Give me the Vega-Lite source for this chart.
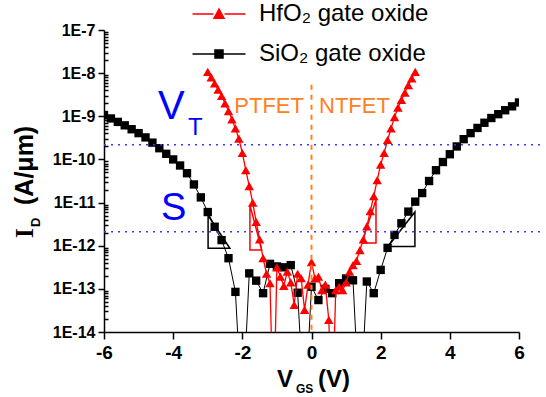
{
"$schema": "https://vega.github.io/schema/vega-lite/v6.json",
"width": 415, "height": 302,
"autosize": {"type": "none"},
"padding": {"left": 104, "top": 30, "right": 27, "bottom": 65},
"background": "white",
"config": {"view": {"stroke": null}, "font": "Liberation Sans",
 "axis": {"grid": false, "domainColor": "black", "domainWidth": 1.5, "tickColor": "black", "tickWidth": 1.5, "labelColor": "black", "labelFont": "Liberation Sans", "labelFontWeight": "bold", "labelFlush": false, "labelBound": false, "labelOverlap": false},
 "legend": {"title": null, "orient": "none", "legendX": 103, "legendY": -28, "padding": 0, "labelFont": "Liberation Sans", "labelFontSize": 24, "labelFontWeight": "normal", "labelColor": "black", "labelOffset": 28, "labelLimit": 400, "rowPadding": 16, "symbolSize": 100, "symbolStrokeWidth": 1.5}},
"data": {"values": [
{"oxide":"SiO2","V":-6.0,"I":1.07e-9},{"oxide":"SiO2","V":-5.8,"I":8.91e-10},{"oxide":"SiO2","V":-5.6,"I":7.41e-10},{"oxide":"SiO2","V":-5.4,"I":6.17e-10},{"oxide":"SiO2","V":-5.2,"I":5.01e-10},{"oxide":"SiO2","V":-5.0,"I":4.07e-10},{"oxide":"SiO2","V":-4.8,"I":3.24e-10},{"oxide":"SiO2","V":-4.6,"I":2.45e-10},{"oxide":"SiO2","V":-4.4,"I":1.82e-10},{"oxide":"SiO2","V":-4.2,"I":1.35e-10},{"oxide":"SiO2","V":-4.0,"I":1.0e-10},{"oxide":"SiO2","V":-3.8,"I":7.24e-11},{"oxide":"SiO2","V":-3.6,"I":4.79e-11},{"oxide":"SiO2","V":-3.4,"I":2.63e-11},{"oxide":"SiO2","V":-3.2,"I":1.32e-11},{"oxide":"SiO2","V":-3.0,"I":6.03e-12},{"oxide":"SiO2","V":-2.8,"I":2.75e-12},{"oxide":"SiO2","V":-2.6,"I":1.35e-12},{"oxide":"SiO2","V":-2.4,"I":5.13e-13},{"oxide":"SiO2","V":-2.2,"I":8.51e-14},{"oxide":"SiO2","V":-2.0,"I":1e-16},{"oxide":"SiO2","V":-1.8,"I":2.29e-13},{"oxide":"SiO2","V":-1.6,"I":1.55e-13},{"oxide":"SiO2","V":-1.4,"I":7.94e-14},{"oxide":"SiO2","V":-1.2,"I":3.8e-13},{"oxide":"SiO2","V":-1.0,"I":3.31e-13},{"oxide":"SiO2","V":-0.8,"I":3.16e-13},{"oxide":"SiO2","V":-0.6,"I":3.55e-13},{"oxide":"SiO2","V":-0.4,"I":8.13e-14},{"oxide":"SiO2","V":-0.2,"I":1e-16},{"oxide":"SiO2","V":0.0,"I":1.12e-13},{"oxide":"SiO2","V":0.2,"I":5.5e-14},{"oxide":"SiO2","V":0.4,"I":1.0e-13},{"oxide":"SiO2","V":0.6,"I":7.94e-14},{"oxide":"SiO2","V":0.8,"I":1.35e-13},{"oxide":"SiO2","V":1.0,"I":1.74e-13},{"oxide":"SiO2","V":1.2,"I":1.58e-13},{"oxide":"SiO2","V":1.4,"I":1e-16},{"oxide":"SiO2","V":1.6,"I":1.48e-13},{"oxide":"SiO2","V":1.8,"I":7.94e-14},{"oxide":"SiO2","V":2.0,"I":2.75e-13},{"oxide":"SiO2","V":2.2,"I":8.91e-13},{"oxide":"SiO2","V":2.4,"I":1.78e-12},{"oxide":"SiO2","V":2.6,"I":3.31e-12},{"oxide":"SiO2","V":2.8,"I":6.17e-12},{"oxide":"SiO2","V":3.0,"I":1.05e-11},{"oxide":"SiO2","V":3.2,"I":1.66e-11},{"oxide":"SiO2","V":3.4,"I":3.16e-11},{"oxide":"SiO2","V":3.6,"I":5.62e-11},{"oxide":"SiO2","V":3.8,"I":8.71e-11},{"oxide":"SiO2","V":4.0,"I":1.32e-10},{"oxide":"SiO2","V":4.2,"I":2.0e-10},{"oxide":"SiO2","V":4.4,"I":2.95e-10},{"oxide":"SiO2","V":4.6,"I":4.07e-10},{"oxide":"SiO2","V":4.8,"I":5.37e-10},{"oxide":"SiO2","V":5.0,"I":7.08e-10},{"oxide":"SiO2","V":5.2,"I":9.12e-10},{"oxide":"SiO2","V":5.4,"I":1.12e-9},{"oxide":"SiO2","V":5.6,"I":1.38e-9},{"oxide":"SiO2","V":5.8,"I":1.7e-9},{"oxide":"SiO2","V":6.0,"I":2.09e-9},
{"oxide":"HfO2","V":-3.0,"I":1.07e-8},{"oxide":"HfO2","V":-2.9,"I":7.94e-9},{"oxide":"HfO2","V":-2.8,"I":5.75e-9},{"oxide":"HfO2","V":-2.7,"I":4.17e-9},{"oxide":"HfO2","V":-2.6,"I":2.95e-9},{"oxide":"HfO2","V":-2.5,"I":2.0e-9},{"oxide":"HfO2","V":-2.4,"I":1.32e-9},{"oxide":"HfO2","V":-2.3,"I":8.51e-10},{"oxide":"HfO2","V":-2.2,"I":5.25e-10},{"oxide":"HfO2","V":-2.1,"I":3.02e-10},{"oxide":"HfO2","V":-2.0,"I":1.41e-10},{"oxide":"HfO2","V":-1.9,"I":5.62e-11},{"oxide":"HfO2","V":-1.8,"I":2.4e-11},{"oxide":"HfO2","V":-1.7,"I":1.0e-11},{"oxide":"HfO2","V":-1.6,"I":3.55e-12},{"oxide":"HfO2","V":-1.5,"I":1.41e-12},{"oxide":"HfO2","V":-1.4,"I":5.13e-13},{"oxide":"HfO2","V":-1.3,"I":2.24e-13},{"oxide":"HfO2","V":-1.2,"I":1.35e-13},{"oxide":"HfO2","V":-1.1,"I":1e-16},{"oxide":"HfO2","V":-1.0,"I":3.16e-13},{"oxide":"HfO2","V":-0.9,"I":1.91e-13},{"oxide":"HfO2","V":-0.8,"I":1.17e-13},{"oxide":"HfO2","V":-0.7,"I":2.51e-13},{"oxide":"HfO2","V":-0.6,"I":1.41e-13},{"oxide":"HfO2","V":-0.5,"I":4.27e-14},{"oxide":"HfO2","V":-0.4,"I":2.24e-13},{"oxide":"HfO2","V":-0.3,"I":1.78e-13},{"oxide":"HfO2","V":-0.2,"I":3.24e-14},{"oxide":"HfO2","V":-0.1,"I":1.26e-13},{"oxide":"HfO2","V":0.0,"I":4.17e-13},{"oxide":"HfO2","V":0.1,"I":1.74e-13},{"oxide":"HfO2","V":0.2,"I":1.91e-13},{"oxide":"HfO2","V":0.3,"I":9.33e-14},{"oxide":"HfO2","V":0.4,"I":1.26e-13},{"oxide":"HfO2","V":0.5,"I":1.91e-14},{"oxide":"HfO2","V":0.6,"I":1e-16},{"oxide":"HfO2","V":0.7,"I":9.33e-14},{"oxide":"HfO2","V":0.8,"I":1.12e-13},{"oxide":"HfO2","V":0.9,"I":9.33e-14},{"oxide":"HfO2","V":1.0,"I":1.41e-13},{"oxide":"HfO2","V":1.1,"I":2.51e-13},{"oxide":"HfO2","V":1.2,"I":3.55e-13},{"oxide":"HfO2","V":1.3,"I":4.47e-13},{"oxide":"HfO2","V":1.4,"I":7.94e-13},{"oxide":"HfO2","V":1.5,"I":1.41e-12},{"oxide":"HfO2","V":1.6,"I":2.82e-12},{"oxide":"HfO2","V":1.7,"I":6.31e-12},{"oxide":"HfO2","V":1.8,"I":1.41e-11},{"oxide":"HfO2","V":1.9,"I":3.31e-11},{"oxide":"HfO2","V":2.0,"I":7.59e-11},{"oxide":"HfO2","V":2.1,"I":1.41e-10},{"oxide":"HfO2","V":2.2,"I":2.82e-10},{"oxide":"HfO2","V":2.3,"I":5.25e-10},{"oxide":"HfO2","V":2.4,"I":9.55e-10},{"oxide":"HfO2","V":2.5,"I":1.58e-9},{"oxide":"HfO2","V":2.6,"I":2.4e-9},{"oxide":"HfO2","V":2.7,"I":3.55e-9},{"oxide":"HfO2","V":2.8,"I":5.25e-9},{"oxide":"HfO2","V":2.9,"I":7.59e-9},{"oxide":"HfO2","V":3.0,"I":1.07e-8}
]},
"layer": [
{"data": {"values": [
 {"t":"bl","k":0,"V":-2.99,"I":5.01e-12},{"t":"bl","k":1,"V":-2.99,"I":8.71e-13},{"t":"bl","k":2,"V":-2.36,"I":8.71e-13},{"t":"bl","k":3,"V":-2.99,"I":5.01e-12},
 {"t":"br","k":0,"V":2.21,"I":9.55e-13},{"t":"br","k":1,"V":2.99,"I":9.55e-13},{"t":"br","k":2,"V":2.99,"I":6.03e-12},{"t":"br","k":3,"V":2.21,"I":9.55e-13}
 ]},
 "mark": {"type": "line", "color": "black", "strokeWidth": 1.5, "clip": true},
 "encoding": {
  "x": {"field": "V", "type": "quantitative", "scale": {"domain": [-6, 6], "nice": false, "zero": false},
   "axis": {"title": null, "values": [-6,-5,-4,-3,-2,-1,0,1,2,3,4,5,6], "labelExpr": "datum.value % 2 == 0 ? '' + datum.value : ''", "labelFontSize": 19, "labelPadding": 4, "tickSize": {"condition": {"test": "datum.value % 2 == 0", "value": 7}, "value": 4}}},
  "y": {"field": "I", "type": "quantitative", "scale": {"type": "log", "domain": [1e-14, 1e-7], "nice": false},
   "axis": {"title": null, "values": [1e-14,2e-14,3e-14,4e-14,5e-14,6e-14,7e-14,8e-14,9e-14,1e-13,2e-13,3e-13,4e-13,5e-13,6e-13,7e-13,8e-13,9e-13,1e-12,2e-12,3e-12,4e-12,5e-12,6e-12,7e-12,8e-12,9e-12,1e-11,2e-11,3e-11,4e-11,5e-11,6e-11,7e-11,8e-11,9e-11,1e-10,2e-10,3e-10,4e-10,5e-10,6e-10,7e-10,8e-10,9e-10,1e-9,2e-9,3e-9,4e-9,5e-9,6e-9,7e-9,8e-9,9e-9,1e-8,2e-8,3e-8,4e-8,5e-8,6e-8,7e-8,8e-8,9e-8,1e-7],
    "labelExpr": "abs(log(datum.value)/LN10 - round(log(datum.value)/LN10)) < 0.001 ? '1E' + round(log(datum.value)/LN10) : ''",
    "labelFontSize": 16, "labelPadding": 3,
    "tickSize": {"condition": {"test": "abs(log(datum.value)/LN10 - round(log(datum.value)/LN10)) < 0.001", "value": 6}, "value": -4}}},
  "detail": {"field": "t"}, "order": {"field": "k"}}},
{"data": {"values": [
 {"t":"rl","k":0,"V":-1.78,"I":8.71e-12},{"t":"rl","k":1,"V":-1.78,"I":7.94e-13},{"t":"rl","k":2,"V":-1.44,"I":7.94e-13},{"t":"rl","k":3,"V":-1.78,"I":8.71e-12},
 {"t":"rr","k":0,"V":1.45,"I":1.15e-12},{"t":"rr","k":1,"V":1.865,"I":1.15e-12},{"t":"rr","k":2,"V":1.865,"I":1.15e-11},{"t":"rr","k":3,"V":1.45,"I":1.15e-12}
 ]},
 "mark": {"type": "line", "color": "#ff0000", "strokeWidth": 1.5, "clip": true},
 "encoding": {"x": {"field": "V", "type": "quantitative"}, "y": {"field": "I", "type": "quantitative"}, "detail": {"field": "t"}, "order": {"field": "k"}}},
{"transform": [{"filter": "datum.oxide == 'SiO2'"}],
 "mark": {"type": "line", "color": "black", "strokeWidth": 1, "clip": true},
 "encoding": {"x": {"field": "V", "type": "quantitative"}, "y": {"field": "I", "type": "quantitative"}}},
{"transform": [{"filter": "datum.oxide == 'SiO2'"}],
 "mark": {"type": "point", "shape": "square", "filled": true, "color": "#000000", "size": 70, "opacity": 1, "clip": true},
 "encoding": {"x": {"field": "V", "type": "quantitative"}, "y": {"field": "I", "type": "quantitative"}}},
{"transform": [{"filter": "datum.oxide == 'HfO2'"}],
 "mark": {"type": "line", "color": "#ff0000", "strokeWidth": 1.3, "clip": true},
 "encoding": {"x": {"field": "V", "type": "quantitative"}, "y": {"field": "I", "type": "quantitative"}}},
{"transform": [{"filter": "datum.oxide == 'HfO2'"}],
 "mark": {"type": "point", "shape": "triangle-up", "filled": true, "color": "#ff0000", "size": 90, "opacity": 1, "clip": true},
 "encoding": {"x": {"field": "V", "type": "quantitative"}, "y": {"field": "I", "type": "quantitative"}}},
{"transform": [{"filter": "false"}],
 "mark": {"type": "point", "filled": true, "opacity": 1, "strokeWidth": 1.5},
 "encoding": {"x": {"field": "V", "type": "quantitative"}, "y": {"field": "I", "type": "quantitative"},
  "fill": {"field": "oxide", "type": "nominal", "scale": {"domain": ["HfO2", "SiO2"], "range": ["#ff0000", "#000000"]},
   "legend": {"labelExpr": "datum.value == 'HfO2' ? 'HfO₂ gate oxide' : 'SiO₂ gate oxide'"}},
  "stroke": {"field": "oxide", "type": "nominal", "scale": {"domain": ["HfO2", "SiO2"], "range": ["#ff0000", "#000000"]},
   "legend": {"labelExpr": "datum.value == 'HfO2' ? 'HfO₂ gate oxide' : 'SiO₂ gate oxide'"}},
  "shape": {"field": "oxide", "type": "nominal", "scale": {"domain": ["HfO2", "SiO2"], "range": ["M-5.3,0H-1.1M1.1,0H5.3M-1,0.85L0,-1L1,0.85Z", "M-5.3,0H-0.8M0.8,0H5.3M-0.8,-0.8H0.8V0.8H-0.8Z"]},
   "legend": {"labelExpr": "datum.value == 'HfO2' ? 'HfO₂ gate oxide' : 'SiO₂ gate oxide'"}}}},
{"data": {"values": [{"lvl": 2.2e-10}, {"lvl": 2.1e-12}]},
 "mark": {"type": "rule", "color": "#3a3aff", "strokeWidth": 1.5, "strokeDash": [2, 5], "clip": false},
 "encoding": {"y": {"field": "lvl", "type": "quantitative"}, "x": {"datum": -6, "type": "quantitative"}, "x2": {"datum": 6.62}}},
{"data": {"values": [{}]},
 "mark": {"type": "rule", "color": "#ff8020", "strokeWidth": 2, "strokeDash": [5, 5]},
 "encoding": {"x": {"datum": 0, "type": "quantitative"}, "y": {"datum": 5.4e-9, "type": "quantitative"}, "y2": {"datum": 1e-14}}},
{"data": {"values": [{}]}, "mark": {"type": "text", "text": "V", "fontSize": 40, "color": "#0000ff", "align": "left", "baseline": "alphabetic", "font": "Liberation Sans"},
 "encoding": {"x": {"datum": -4.44, "type": "quantitative"}, "y": {"datum": 8.65e-10, "type": "quantitative"}}},
{"data": {"values": [{}]}, "mark": {"type": "text", "text": "T", "fontSize": 24, "color": "#0000ff", "align": "left", "baseline": "alphabetic", "font": "Liberation Sans"},
 "encoding": {"x": {"datum": -3.57, "type": "quantitative"}, "y": {"datum": 3.68e-10, "type": "quantitative"}}},
{"data": {"values": [{}]}, "mark": {"type": "text", "text": "S", "fontSize": 38, "color": "#0000ff", "align": "left", "baseline": "alphabetic", "font": "Liberation Sans"},
 "encoding": {"x": {"datum": -4.35, "type": "quantitative"}, "y": {"datum": 3.94e-12, "type": "quantitative"}}},
{"data": {"values": [{}]}, "mark": {"type": "text", "text": "PTFET", "fontSize": 22, "color": "#ff8020", "align": "right", "baseline": "alphabetic", "font": "Liberation Sans"},
 "encoding": {"x": {"datum": -0.217, "type": "quantitative"}, "y": {"datum": 1.19e-9, "type": "quantitative"}}},
{"data": {"values": [{}]}, "mark": {"type": "text", "text": "NTFET", "fontSize": 22, "color": "#ff8020", "align": "left", "baseline": "alphabetic", "font": "Liberation Sans"},
 "encoding": {"x": {"datum": 0.217, "type": "quantitative"}, "y": {"datum": 1.19e-9, "type": "quantitative"}}},
{"data": {"values": [{}]}, "mark": {"type": "text", "text": "V", "fontSize": 24, "fontWeight": "bold", "color": "black", "align": "left", "baseline": "alphabetic", "font": "Liberation Sans"},
 "encoding": {"x": {"datum": -0.998, "type": "quantitative"}, "y": {"datum": 5.3e-16, "type": "quantitative"}}},
{"data": {"values": [{}]}, "mark": {"type": "text", "text": "GS", "fontSize": 12, "fontWeight": "bold", "color": "black", "align": "left", "baseline": "alphabetic", "font": "Liberation Sans"},
 "encoding": {"x": {"datum": -0.448, "type": "quantitative"}, "y": {"datum": 3.86e-16, "type": "quantitative"}}},
{"data": {"values": [{}]}, "mark": {"type": "text", "text": "(V)", "fontSize": 24, "fontWeight": "bold", "color": "black", "align": "left", "baseline": "alphabetic", "font": "Liberation Sans"},
 "encoding": {"x": {"datum": 0.188, "type": "quantitative"}, "y": {"datum": 5.3e-16, "type": "quantitative"}}},
{"data": {"values": [{}]}, "mark": {"type": "text", "text": "I", "fontSize": 25, "fontWeight": "bold", "color": "black", "align": "left", "baseline": "alphabetic", "angle": 270, "font": "Liberation Serif"},
 "encoding": {"x": {"datum": -8.05, "type": "quantitative"}, "y": {"datum": 1.51e-12, "type": "quantitative"}}},
{"data": {"values": [{}]}, "mark": {"type": "text", "text": "D", "fontSize": 13, "fontWeight": "bold", "color": "black", "align": "left", "baseline": "alphabetic", "angle": 270, "font": "Liberation Sans"},
 "encoding": {"x": {"datum": -7.86, "type": "quantitative"}, "y": {"datum": 2.71e-12, "type": "quantitative"}}},
{"data": {"values": [{}]}, "mark": {"type": "text", "text": "(A/μm)", "fontSize": 25, "fontWeight": "bold", "color": "black", "align": "left", "baseline": "alphabetic", "angle": 270, "font": "Liberation Sans"},
 "encoding": {"x": {"datum": -8.05, "type": "quantitative"}, "y": {"datum": 8.79e-12, "type": "quantitative"}}}
]
}
